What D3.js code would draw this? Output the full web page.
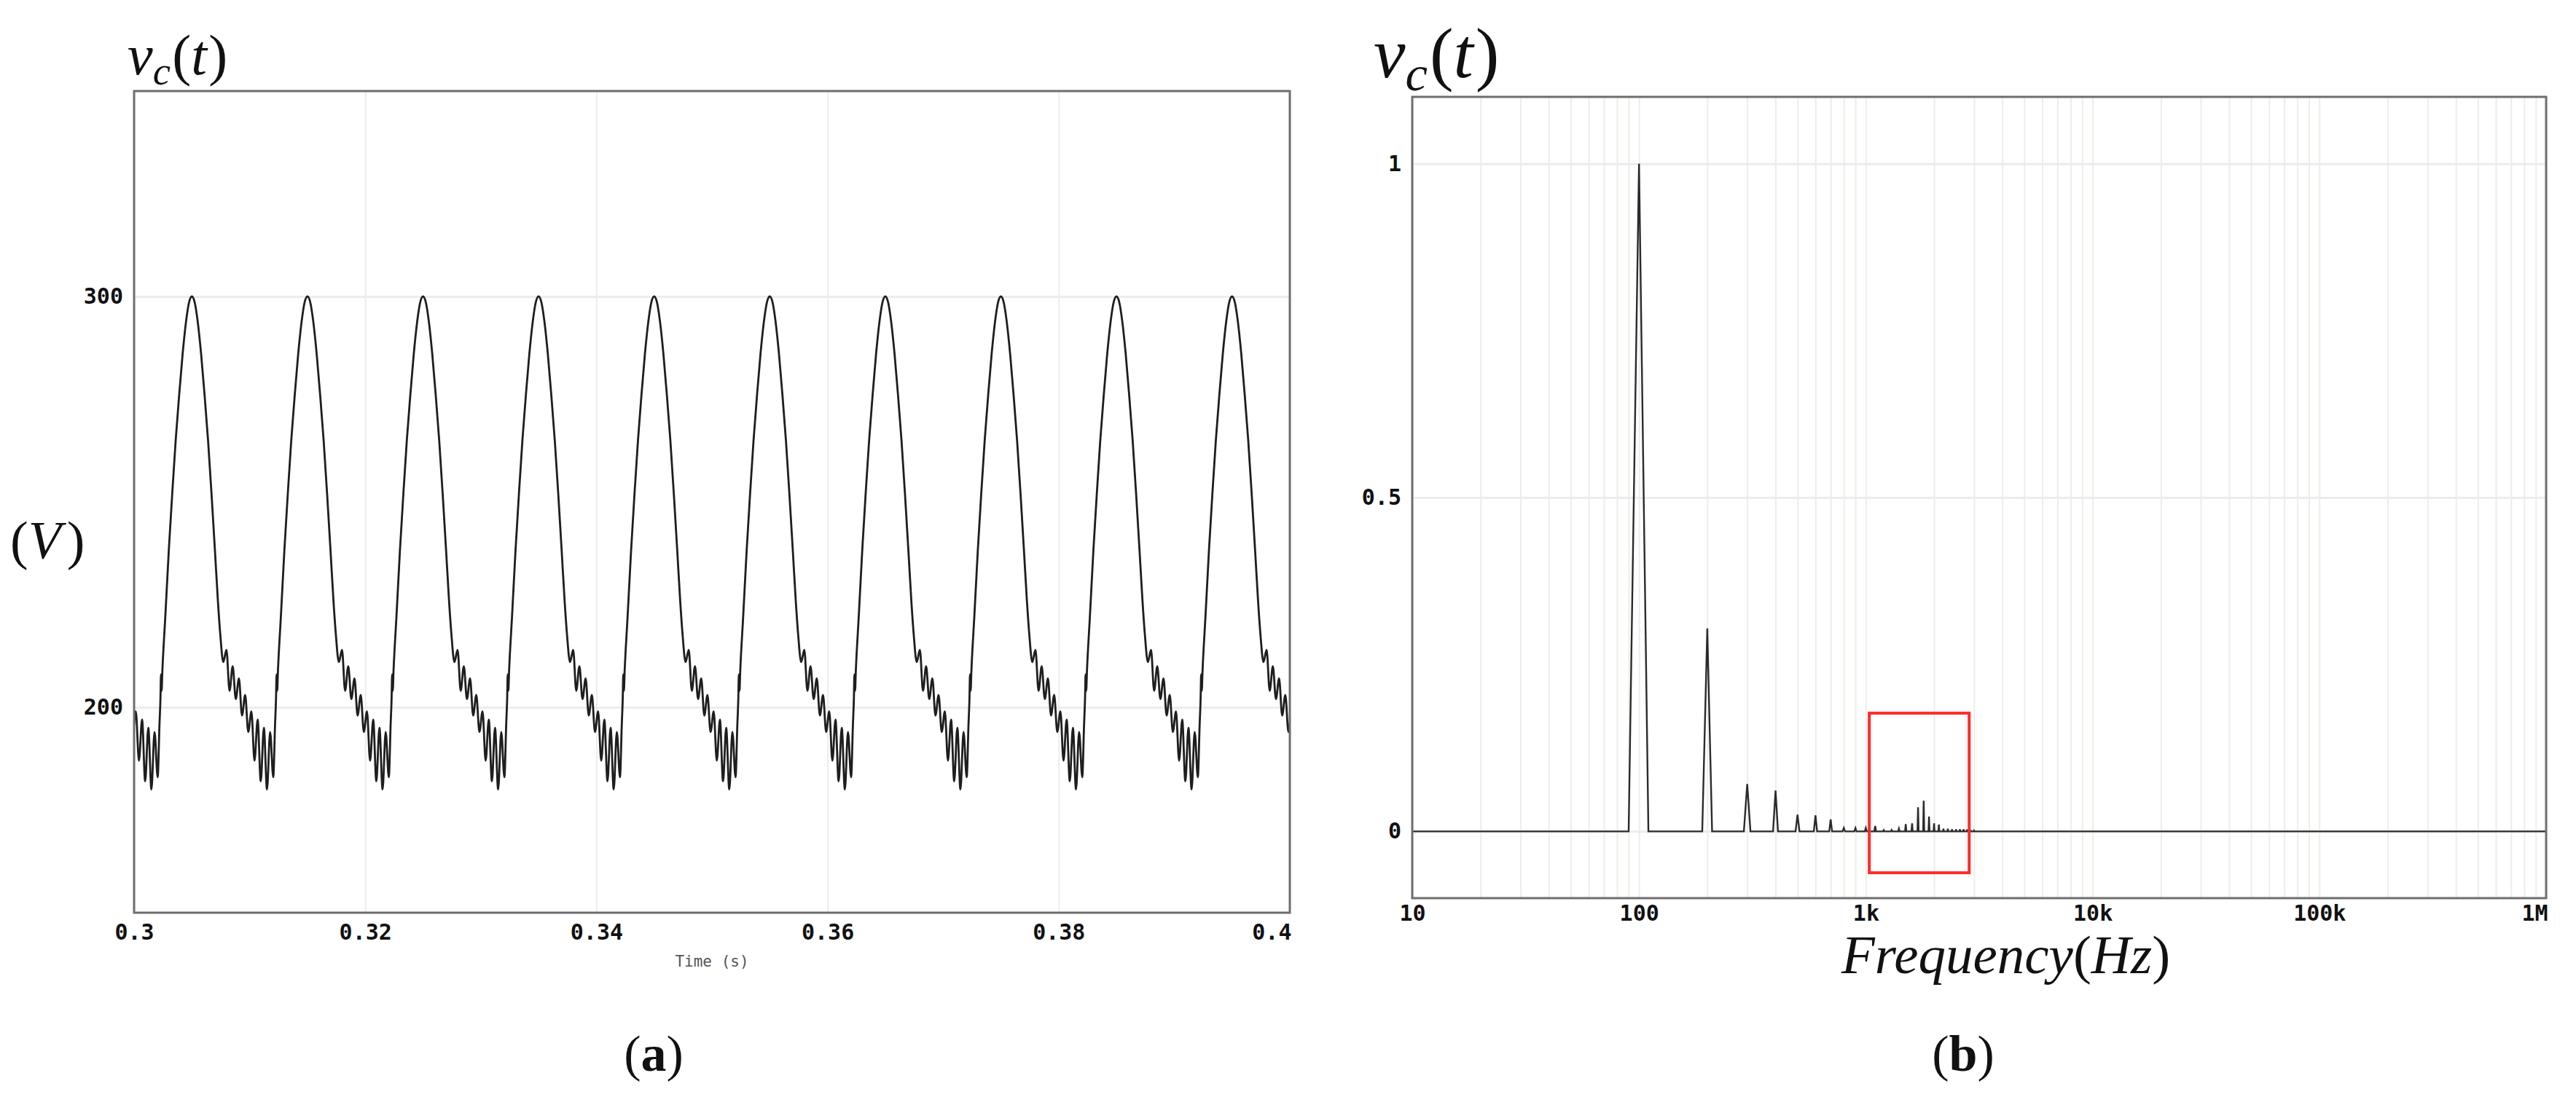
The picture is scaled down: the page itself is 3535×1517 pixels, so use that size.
<!DOCTYPE html>
<html>
<head>
<meta charset="utf-8">
<script src="https://cdn.jsdelivr.net/npm/d3@7"></script>
<style>
	body { margin: 0; background: #fff; }
	svg { display: block; }
	.tick text { font-family: "DejaVu Sans Mono", monospace; font-weight: bold; font-size: 30px; fill: #111; }
	.math { font-family: "Liberation Serif", "DejaVu Serif", serif; fill: #111; }
	.grid line { stroke: #e9f0e6; stroke-width: 2; }
	.grid .domain { display: none; }
	.hgrid line { stroke: #ececec; stroke-width: 3; }
	.hgrid .domain { display: none; }
</style>
</head>
<body>
<div id="chart"></div>
<script>
// (a) capacitor voltage: one period of the trace
// ms after a peak -> volts, from that peak up to the next one
const periodMs = [0, 0.25, 0.5, 0.8, 1.1, 1.4, 1.7, 2.0, 2.25, 2.45,
	2.72, 2.99, 3.26, 3.53, 3.80, 4.07, 4.34, 4.61, 4.88, 5.15, 5.42, 5.69, 5.96, 6.23, 6.50, 6.77, 7.04,
	7.20, 7.28, 7.33, 7.38, 7.45, 7.7, 8.0, 8.3, 8.6, 8.9, 9.2, 9.5, 9.75, 10];
const periodV = [300, 298.5, 294, 286, 276, 265, 252, 238, 226, 218,
	211, 214, 204, 210, 202, 207, 198, 203, 194, 199, 187, 197, 182, 195, 180, 194, 183,
	196, 202, 208, 204, 209, 222, 238, 252, 265, 276, 286, 294, 298.5, 300];
const peakTimes = [0.295, 0.305, 0.315, 0.325, 0.335, 0.345, 0.355, 0.365, 0.375, 0.385, 0.395];
const timeTicks = [0.3, 0.32, 0.34, 0.36, 0.38, 0.4];
const timeTickLabels = ['0.3', '0.32', '0.34', '0.36', '0.38', '0.4'];
const voltTicks = [200, 300];

// (b) spectrum: harmonic lines (Hz) and their normalised amplitude
const harmFreq = [100, 200, 300, 400, 500, 600, 700, 800, 900, 1000, 1100, 1200, 1300, 1400, 1500,
	1600, 1700, 1800, 1900, 2000, 2100, 2200, 2300, 2400, 2500, 2600, 2700, 2800, 2900, 3000];
const harmAmp = [1.0, 0.304, 0.071, 0.061, 0.025, 0.024, 0.018, 0.005, 0.005, 0.005, 0.008, 0.002, 0.002, 0.004, 0.011,
	0.012, 0.036, 0.046, 0.022, 0.012, 0.010, 0.004, 0.004, 0.003, 0.003, 0.003, 0.003, 0.003, 0.002, 0.001];
const binHz = 10;
const freqTicks = [10, 100, 1e3, 1e4, 1e5, 1e6];
const freqTickLabels = ['10', '100', '1k', '10k', '100k', '1M'];
const ampTicks = [0, 0.5, 1];
const ampTickLabels = ['0', '0.5', '1'];
const boxFreq = [1036, 2857];
const boxAmp = [-0.062, 0.177];

const W = 3535, H = 1517;
const svg = d3.select('#chart').append('svg').attr('width', W).attr('height', H);

// ---------- (a) ----------
const a = { left: 184, right: 1770, top: 125, bottom: 1253 };
const xT = d3.scaleLinear().domain([0.3, 0.4]).range([a.left, a.right]);
const yV = d3.scaleLinear().domain([150, 350]).range([a.bottom, a.top]);

svg.append('g').attr('class', 'grid')
	.attr('transform', 'translate(0,' + a.bottom + ')')
	.call(d3.axisBottom(xT).tickValues(timeTicks).tickSize(-(a.bottom - a.top)).tickFormat(''));
svg.append('g').attr('class', 'hgrid')
	.attr('transform', 'translate(' + a.left + ',0)')
	.call(d3.axisLeft(yV).tickValues(voltTicks).tickSize(-(a.right - a.left)).tickFormat(''));

svg.append('defs').append('clipPath').attr('id', 'clipA')
	.append('rect').attr('x', a.left).attr('y', a.top)
	.attr('width', a.right - a.left).attr('height', a.bottom - a.top);

const trace = [];
peakTimes.forEach(p => {
	periodMs.forEach((ms, i) => trace.push([p + ms / 1000, periodV[i]]));
});

svg.append('path')
	.datum(trace)
	.attr('clip-path', 'url(#clipA)')
	.attr('fill', 'none')
	.attr('stroke', '#1e1e1e')
	.attr('stroke-width', 2.8)
	.attr('d', d3.line().curve(d3.curveMonotoneX).x(d => xT(d[0])).y(d => yV(d[1])));

svg.append('rect')
	.attr('x', a.left).attr('y', a.top)
	.attr('width', a.right - a.left).attr('height', a.bottom - a.top)
	.attr('fill', 'none').attr('stroke', '#6e6e6e').attr('stroke-width', 3);

const axA = svg.append('g')
	.attr('transform', 'translate(0,' + a.bottom + ')')
	.call(d3.axisBottom(xT).tickValues(timeTicks).tickSize(0).tickPadding(16)
		.tickFormat((d, i) => timeTickLabels[i]));
axA.select('.domain').remove();
axA.selectAll('.tick').filter((d, i) => i === timeTicks.length - 1)
	.select('text').attr('text-anchor', 'end').attr('x', 2);

const ayA = svg.append('g')
	.attr('transform', 'translate(' + a.left + ',0)')
	.call(d3.axisLeft(yV).tickValues(voltTicks).tickSize(0).tickPadding(15));
ayA.select('.domain').remove();

svg.append('text')
	.attr('x', (a.left + a.right) / 2).attr('y', 1327)
	.attr('text-anchor', 'middle')
	.style('font-family', '"DejaVu Sans Mono", monospace')
	.style('font-size', '21px').style('fill', '#555')
	.text('Time (s)');

// v_c(t) title helper
function vcTitle(x, y, size) {
	const t = svg.append('text').attr('class', 'math').attr('x', x).attr('y', y).style('font-size', size + 'px');
	t.append('tspan').style('font-style', 'italic').text('v');
	t.append('tspan').style('font-style', 'italic').style('font-size', (size * 0.7) + 'px')
		.attr('dy', size * 0.18).text('c');
	t.append('tspan').attr('dy', -size * 0.18).attr('dx', size * 0.03).text('(');
	t.append('tspan').style('font-style', 'italic').text('t');
	t.append('tspan').attr('dx', size * 0.03).text(')');
}
vcTitle(175, 102, 78);

const vl = svg.append('text').attr('class', 'math').attr('x', 14).attr('y', 767).style('font-size', '74px');
vl.append('tspan').text('(');
vl.append('tspan').style('font-style', 'italic').text('V');
vl.append('tspan').attr('dx', 8).text(')');

// ---------- (b) ----------
const b = { left: 1938, right: 3494, top: 133, bottom: 1233 };
const xF = d3.scaleLog().domain([10, 1e6]).range([b.left, b.right]);
const yA = d3.scaleLinear().domain([-0.1, 1.1]).range([b.bottom, b.top]);

const minorTicks = [];
for (let dec = 10; dec < 1e6; dec *= 10) {
	for (let k = 1; k <= 9; k++) minorTicks.push(dec * k);
}
minorTicks.push(1e6);

svg.append('g').attr('class', 'grid')
	.attr('transform', 'translate(0,' + b.bottom + ')')
	.call(d3.axisBottom(xF).tickValues(minorTicks).tickSize(-(b.bottom - b.top)).tickFormat(''));
svg.append('g').attr('class', 'hgrid')
	.attr('transform', 'translate(' + b.left + ',0)')
	.call(d3.axisLeft(yA).tickValues(ampTicks).tickSize(-(b.right - b.left)).tickFormat(''));

// spectrum path: flat zero with one narrow bin-wide spike per harmonic
const spec = [[10, 0]];
harmFreq.forEach((f, i) => {
	spec.push([f - binHz, 0], [f, harmAmp[i]], [f + binHz, 0]);
});
spec.push([1e6, 0]);

svg.append('path')
	.datum(spec)
	.attr('fill', 'none')
	.attr('stroke', '#2b2b2b')
	.attr('stroke-width', 2.4)
	.attr('d', d3.line().x(d => xF(d[0])).y(d => yA(d[1])));

svg.append('rect')
	.attr('x', xF(boxFreq[0])).attr('y', yA(boxAmp[1]))
	.attr('width', xF(boxFreq[1]) - xF(boxFreq[0]))
	.attr('height', yA(boxAmp[0]) - yA(boxAmp[1]))
	.attr('fill', 'none').attr('stroke', '#ff2a2a').attr('stroke-width', 4);

svg.append('rect')
	.attr('x', b.left).attr('y', b.top)
	.attr('width', b.right - b.left).attr('height', b.bottom - b.top)
	.attr('fill', 'none').attr('stroke', '#6e6e6e').attr('stroke-width', 3);

const axB = svg.append('g')
	.attr('transform', 'translate(0,' + b.bottom + ')')
	.call(d3.axisBottom(xF).tickValues(freqTicks).tickSize(0).tickPadding(10)
		.tickFormat((d, i) => freqTickLabels[i]));
axB.select('.domain').remove();
axB.selectAll('.tick').filter((d, i) => i === freqTicks.length - 1)
	.select('text').attr('text-anchor', 'end').attr('x', 2);

const ayB = svg.append('g')
	.attr('transform', 'translate(' + b.left + ',0)')
	.call(d3.axisLeft(yA).tickValues(ampTicks).tickSize(0).tickPadding(15)
		.tickFormat((d, i) => ampTickLabels[i]));
ayB.select('.domain').remove();

vcTitle(1885, 106, 98);

const fl = svg.append('text').attr('class', 'math').attr('x', 2527).attr('y', 1336).style('font-size', '75px');
fl.append('tspan').style('font-style', 'italic').text('Frequency');
fl.append('tspan').text('(');
fl.append('tspan').style('font-style', 'italic').text('Hz');
fl.append('tspan').text(')');

// panel letters
function panelLabel(x, letter) {
	const t = svg.append('text').attr('class', 'math').attr('x', x).attr('y', 1470)
		.attr('text-anchor', 'middle').style('font-size', '70px');
	t.append('tspan').text('(');
	t.append('tspan').style('font-weight', 'bold').text(letter);
	t.append('tspan').text(')');
}
panelLabel(897, 'a');
panelLabel(2694, 'b');
</script>
</body>
</html>
